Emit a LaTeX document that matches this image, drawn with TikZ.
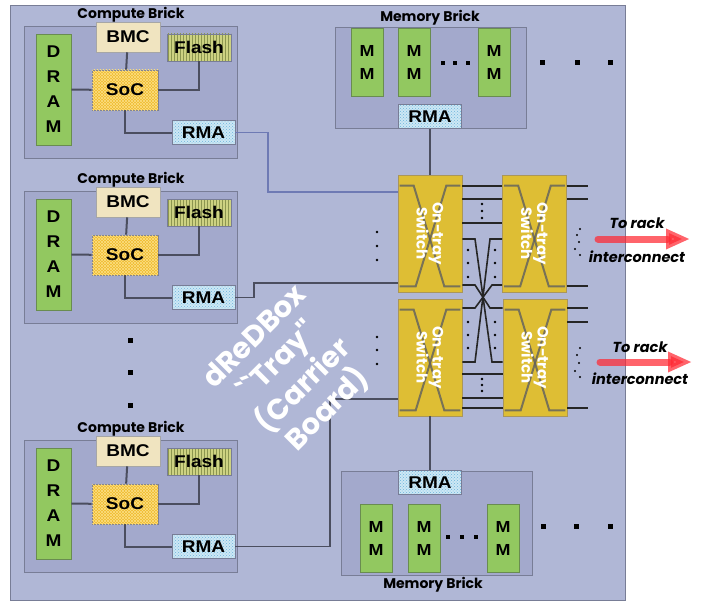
\documentclass[tikz,border=0pt]{standalone}
\usepackage{fontspec}
\setmainfont{Liberation Sans}
\newfontfamily\boxfont[FakeStretch=1.12]{Liberation Sans}
\newfontfamily\gothic{Poppins}
\usepackage{tikz}
\usetikzlibrary{calc,positioning,arrows.meta,patterns}
\usepackage{xcolor}

\definecolor{traybg}{RGB}{176,183,214}
\definecolor{brickbg}{RGB}{163,169,204}
\definecolor{edgegray}{RGB}{120,125,150}
\definecolor{memgreen}{RGB}{146,200,96}
\definecolor{greenedge}{RGB}{105,140,80}
\definecolor{bmcbeige}{RGB}{240,228,192}
\definecolor{flashbase}{RGB}{205,210,130}
\definecolor{flashline}{RGB}{140,150,80}
\definecolor{socgold}{RGB}{240,188,45}
\definecolor{socline}{RGB}{252,222,130}
\definecolor{rmablue}{RGB}{205,232,245}
\definecolor{rmadot}{RGB}{110,180,220}
\definecolor{switchgold}{RGB}{222,190,52}
\definecolor{switchedge}{RGB}{170,150,90}
\definecolor{xgray}{RGB}{95,95,95}
\definecolor{wiregray}{RGB}{75,78,95}
\definecolor{linkblue}{RGB}{110,122,180}
\definecolor{arrowred}{RGB}{255,40,50}

\tikzset{
  box/.style={draw=edgegray,line width=0.6pt,inner sep=0pt,align=center,
    font=\boxfont\bfseries\fontsize{17}{25}\selectfont},
  dram/.style={box,fill=memgreen,draw=greenedge,minimum width=35pt,minimum height=111pt},
  mm/.style={box,fill=memgreen,draw=greenedge,minimum width=32pt,minimum height=68pt,
    font=\boxfont\bfseries\fontsize{16}{23}\selectfont},
  bmc/.style={box,fill=bmcbeige,draw=gray!70,minimum width=64pt,minimum height=30pt},
  flash/.style={box,preaction={fill=flashbase},pattern=vertical lines,pattern color=flashline,
    minimum width=64pt,minimum height=27pt},
  soc/.style={box,preaction={fill=socgold},pattern=north east lines,pattern color=socline,
    postaction={pattern=north west lines,pattern color=socline},minimum width=66pt,minimum height=40pt},
  rma/.style={box,preaction={fill=rmablue},pattern=crosshatch dots,pattern color=rmadot,
    minimum width=63pt,minimum height=24pt},
  brick/.style={draw=edgegray,fill=brickbg,line width=0.8pt,inner sep=0pt},
  bricklabel/.style={font=\gothic\bfseries\fontsize{14}{16}\selectfont},
  switch/.style={draw=switchedge,fill=switchgold,line width=0.6pt,inner sep=0pt,
    minimum width=64pt,minimum height=117pt},
  swtext/.style={text=white,align=center,rotate=-90,inner sep=0pt,
    font=\gothic\bfseries\fontsize{15}{16}\selectfont},
  xline/.style={draw=xgray,line width=2pt,opacity=0.8},
  wire/.style={draw=wiregray,line width=2pt},
  link/.style={draw=wiregray,line width=1.8pt},
  blink/.style={draw=linkblue,line width=1.8pt},
  bus/.style={draw=black!85,line width=1.6pt},
  rack/.style={font=\gothic\bfseries\itshape\fontsize{14.5}{16}\selectfont},
  toarrow/.style={draw=arrowred,line width=7pt,opacity=0.72,line cap=round,
    -{Triangle[length=24pt,width=19pt]}}
}

\begin{document}
\begin{tikzpicture}[x=1pt,y=-1pt]
  \useasboundingbox (0,0) rectangle (704,602);
  \node[draw=edgegray,fill=traybg,line width=0.8pt,minimum width=615pt,minimum height=595pt,inner sep=0pt] (board) at (317.5,302.5) {};

  % compute bricks
  \foreach \b/\dy in {1/0,2/165,3/414}{
    \begin{scope}[shift={(0,\dy)}]
      \node[brick,minimum width=213pt,minimum height=132pt] (cb\b) at (130.5,92) {};
      \node[bricklabel] (cbl\b) at (131,15) {Compute Brick};
      \node[dram] (dram\b) at (53.5,89.5) {D\\R\\A\\M};
      \node[bmc] (bmc\b) at (128,37) {BMC};
      \node[flash] (flash\b) at (199,47.5) {Flash};
      \node[soc] (soc\b) at (125,90) {SoC};
      \node[rma] (rma\b) at (203.5,132.5) {RMA};
      \draw[wire] (dram\b) -- (soc\b);
      \draw[wire] (bmc\b) -- (soc\b);
      \draw[wire] (soc\b.east) -| (flash\b.south);
      \draw[wire] (soc\b.south) |- (rma\b.west);
    \end{scope}
  }
  \foreach \y in {340,372,405} \fill (130,\y) +(-2.5,-2.5) rectangle +(2.5,2.5);

  % memory bricks
  \node[brick,minimum width=191pt,minimum height=101pt] (mbT) at (430.5,77.5) {};
  \node[bricklabel] (mbTl) at (430,18) {Memory Brick};
  \node[mm] (mmT1) at (367,62.5) {M\\M};
  \node[mm] (mmT2) at (414,62.5) {M\\M};
  \node[mm] (mmT3) at (494,62.5) {M\\M};
  \node[rma] (rmaT) at (430,116.5) {RMA};
  \foreach \x in {443,455,468} \fill (\x,63) +(-2,-2) rectangle +(2,2);
  \foreach \x in {542,577,610} \fill (\x,63) +(-2.5,-2.5) rectangle +(2.5,2.5);

  \node[brick,minimum width=191pt,minimum height=104pt] (mbB) at (436.5,523) {};
  \node[bricklabel] (mbBl) at (433,585) {Memory Brick};
  \node[mm] (mmB1) at (376,538) {M\\M};
  \node[mm] (mmB2) at (424,538) {M\\M};
  \node[mm] (mmB3) at (503,538) {M\\M};
  \node[rma] (rmaB) at (430,482.5) {RMA};
  \foreach \x in {448,462,476} \fill (\x,537) +(-2,-2) rectangle +(2,2);
  \foreach \x in {543,576,610} \fill (\x,526) +(-2.5,-2.5) rectangle +(2.5,2.5);

  % on-tray switches
  \node[switch] (swA) at (430,233.5) {};
  \node[switch] (swB) at (534.5,233.5) {};
  \node[switch] (swC) at (430,357.5) {};
  \node[switch] (swD) at (535,357.5) {};
  \foreach \s in {swA,swB,swC,swD}{
    \draw[xline] ($(\s.north west)+(2,11)$) -- ++(14,0) -- ($(\s.south east)+(-18,-6)$) -- ++(16,0);
    \draw[xline] ($(\s.north east)+(-2,11)$) -- ++(-14,0) -- ($(\s.south west)+(18,-6)$) -- ++(-16,0);
    \node[swtext] (\s-t) at (\s) {On-tray\\Switch};
  }

  % switch to switch
  \foreach \y in {186,199,223} \draw[bus] (swA.east |- 0,\y) -- (swB.west |- 0,\y);
  \foreach \y in {374,398,408} \draw[bus] (swC.east |- 0,\y) -- (swD.west |- 0,\y);
  \draw[bus] (swA.east |- 0,239) -- (475,239) -- (492,362) -- (swD.west |- 0,362);
  \draw[bus] (swB.west |- 0,239) -- (490,239) -- (475,362) -- (swC.east |- 0,362);
  \draw[bus] (swA.east |- 0,285) -- (475,285) -- (490,308) -- (swD.west |- 0,308);
  \draw[bus] (swB.west |- 0,285) -- (492,285) -- (475,308) -- (swC.east |- 0,308);
  \foreach \y in {186,199,286} \draw[bus] (swB.east |- 0,\y) -- ++(21,0);
  \foreach \y in {308,322,408} \draw[bus] (swD.east |- 0,\y) -- ++(21,0);
  \foreach \y in {250,263,277,322,335,348}{
    \fill (468,\y) circle (1.3);
    \fill (495,\y) circle (1.3);
  }
  \foreach \y in {204,211,218,379,385,391} \fill (482,\y) circle (1.3);
  \foreach \y in {232,246,260,337,350,364} \fill (377,\y) circle (1.3);
  \foreach \x/\y in {580/229,577/235,579/242,575/249,580/255,580/348,577/355,579/363,575/371,580/377}
    \fill (\x,\y) circle (1.1);

  % bricks to switches
  \draw[blink] (rma1.east) -- ++(33,0) |- (swA.west |- 0,192);
  \draw[link] (rma2.east) -- ++(19,0) |- (swA.west |- 0,283);
  \draw[link] (rma3.east) -- ++(95,0) |- (swC.west |- 0,399);
  \draw[link] (rmaT) -- (swA);
  \draw[link] (swC) -- (rmaB);

  % rack uplinks
  \coordinate (out1) at (598,239);
  \coordinate (tip1) at (690,239);
  \coordinate (out2) at (600,362);
  \coordinate (tip2) at (692,362);
  \draw[toarrow] (out1) -- (tip1);
  \draw[toarrow] (out2) -- (tip2);
  \node[rack] (rack1) at (637,223) {To rack};
  \node[rack] (ic1) at (637,257) {interconnect};
  \node[rack] (rack2) at (640,347) {To rack};
  \node[rack] (ic2) at (640,379) {interconnect};

  \node[text=white,align=center,rotate=45,inner sep=0pt,font=\gothic\bfseries\fontsize{29}{34}\selectfont] (tray) at (292,374) {dReDBox\\``Tray''\\(Carrier\\Board)};
\end{tikzpicture}
\end{document}
